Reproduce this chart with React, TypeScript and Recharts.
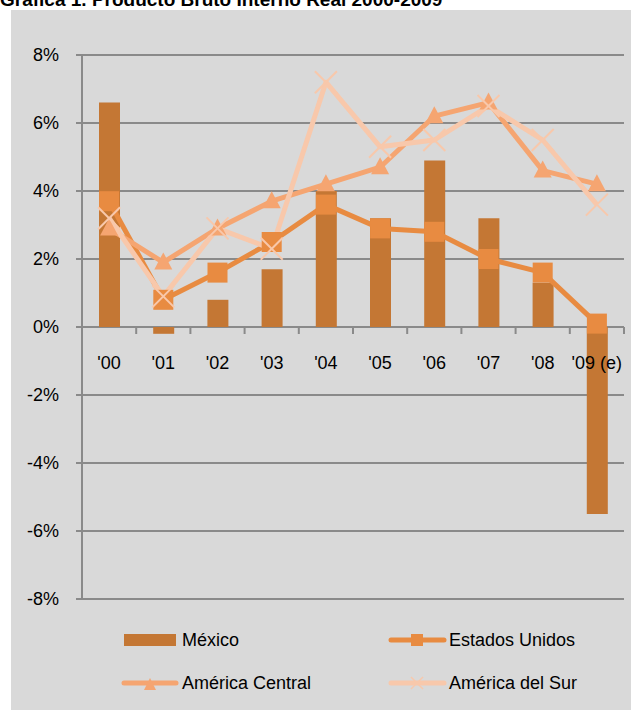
import { ComposedChart, Bar, Line, XAxis, YAxis, CartesianGrid } from 'recharts'

const years = ["'00", "'01", "'02", "'03", "'04", "'05", "'06", "'07", "'08", "'09 (e)"]
const mexico = [6.6, -0.2, 0.8, 1.7, 4.0, 3.2, 4.9, 3.2, 1.3, -5.5]
const estadosUnidos = [3.7, 0.8, 1.6, 2.5, 3.6, 2.9, 2.8, 2.0, 1.6, 0.1]
const americaCentral = [2.9, 1.9, 2.9, 3.7, 4.2, 4.7, 6.2, 6.6, 4.6, 4.2]
const americaSur = [3.2, 0.9, 2.9, 2.3, 7.2, 5.3, 5.5, 6.5, 5.5, 3.6]
const yTicks = [-8, -6, -4, -2, 0, 2, 4, 6, 8]
const seriesNames = ['México', 'Estados Unidos', 'América Central', 'América del Sur']

const FONT = '"Liberation Sans", Arial, sans-serif'
const GRID = '#8A8A8A'
const MX_COLOR = '#C47734'
const US_COLOR = '#E88B41'
const AC_COLOR = '#F5A571'
const AS_COLOR = '#F8C8AB'

const W = 631
const H = 712
const M = { top: 55, right: 7, bottom: 83, left: 0 }
const Y_AXIS_W = 82
const X_AXIS_H = 30
const PLOT_H = H - M.top - M.bottom - X_AXIS_H
const ZERO_Y = M.top + PLOT_H / 2
const BAND = (W - M.right - Y_AXIS_W) / years.length

// category labels sit under the zero line, ticks go between categories
const XTick = (props: any) => {
  const { x, index, payload } = props
  const last = index === years.length - 1
  return (
    <g>
      <line x1={x - BAND / 2} x2={x - BAND / 2} y1={ZERO_Y} y2={ZERO_Y + 7} stroke={GRID} strokeWidth={2} />
      {last && (
        <line x1={x + BAND / 2} x2={x + BAND / 2} y1={ZERO_Y} y2={ZERO_Y + 7} stroke={GRID} strokeWidth={2} />
      )}
      <text
        x={last ? x + BAND / 2 - 2 : x}
        y={ZERO_Y + 42}
        textAnchor={last ? 'end' : 'middle'}
        fontSize={18}
        fontFamily={FONT}
        fill="#000"
      >
        {payload.value}
      </text>
    </g>
  )
}

const SquareDot = (props: any) => {
  const { cx, cy, index } = props
  return <rect key={`sq-${index}`} x={cx - 10} y={cy - 10} width={20} height={20} fill={US_COLOR} />
}

const TriangleDot = (props: any) => {
  const { cx, cy, index } = props
  return (
    <polygon
      key={`tr-${index}`}
      points={`${cx},${cy - 10} ${cx - 9},${cy + 7} ${cx + 9},${cy + 7}`}
      fill={AC_COLOR}
    />
  )
}

const CrossDot = (props: any) => {
  const { cx, cy, index } = props
  return (
    <g key={`x-${index}`} stroke={AS_COLOR} strokeWidth={2}>
      <line x1={cx - 11} y1={cy - 11} x2={cx + 11} y2={cy + 11} />
      <line x1={cx - 11} y1={cy + 11} x2={cx + 11} y2={cy - 11} />
    </g>
  )
}

export default function App() {
  const data = years.map((year, i) => ({
    year,
    mexico: mexico[i],
    estadosUnidos: estadosUnidos[i],
    americaCentral: americaCentral[i],
    americaSur: americaSur[i],
  }))

  const textStyle = {
    position: 'absolute' as const,
    fontSize: 18,
    lineHeight: '20px',
    whiteSpace: 'nowrap' as const,
    color: '#000',
  }

  return (
    <div style={{ position: 'absolute', left: 0, top: 0, width: W, height: H, overflow: 'hidden', background: '#fff', fontFamily: FONT }}>
      <div style={{ position: 'absolute', left: 0, top: -10, fontSize: 19, lineHeight: '19px', fontWeight: 'bold', whiteSpace: 'nowrap' }}>
        Gráfica 1. Producto Bruto Interno Real 2000-2009
      </div>
      <div style={{ position: 'absolute', left: 11, top: 10, width: 620, height: 700, background: '#D9D9D9' }} />

      <div style={{ position: 'absolute', left: 0, top: 0 }}>
        <ComposedChart width={W} height={H} data={data} margin={M}>
          <CartesianGrid vertical={false} stroke={GRID} strokeWidth={2} />
          <XAxis
            dataKey="year"
            height={X_AXIS_H}
            axisLine={false}
            tickLine={false}
            interval={0}
            tick={XTick}
          />
          <YAxis
            width={Y_AXIS_W}
            domain={[-8, 8]}
            ticks={yTicks}
            interval={0}
            tickFormatter={(v: number) => `${v}%`}
            axisLine={{ stroke: GRID, strokeWidth: 2 }}
            tickLine={{ stroke: GRID, strokeWidth: 2 }}
            tickSize={6}
            tickMargin={17}
            tick={{ fill: '#000', fontSize: 18, fontFamily: FONT }}
          />
          <Bar dataKey="mexico" fill={MX_COLOR} barSize={21} isAnimationActive={false} />
          <Line
            type="linear"
            dataKey="estadosUnidos"
            stroke={US_COLOR}
            strokeWidth={5}
            strokeLinejoin="round"
            dot={SquareDot}
            activeDot={false}
            isAnimationActive={false}
          />
          <Line
            type="linear"
            dataKey="americaCentral"
            stroke={AC_COLOR}
            strokeWidth={5}
            strokeLinejoin="round"
            dot={TriangleDot}
            activeDot={false}
            isAnimationActive={false}
          />
          <Line
            type="linear"
            dataKey="americaSur"
            stroke={AS_COLOR}
            strokeWidth={5}
            strokeLinejoin="round"
            dot={CrossDot}
            activeDot={false}
            isAnimationActive={false}
          />
        </ComposedChart>
      </div>

      {/* legend */}
      <svg style={{ position: 'absolute', left: 0, top: 620 }} width={W} height={80}>
        <rect x={124} y={14} width={52} height={12} fill={MX_COLOR} />
        <line x1={391} x2={444} y1={20} y2={20} stroke={US_COLOR} strokeWidth={5} strokeLinecap="round" />
        <rect x={411} y={14} width={12} height={12} fill={US_COLOR} />
        <line x1={124} x2={176} y1={63} y2={63} stroke={AC_COLOR} strokeWidth={5} strokeLinecap="round" />
        <polygon points="150,58 144,70 156,70" fill={AC_COLOR} />
        <line x1={391} x2={444} y1={63} y2={63} stroke={AS_COLOR} strokeWidth={5} strokeLinecap="round" />
        <g stroke={AS_COLOR} strokeWidth={1.5}>
          <line x1={411} y1={57} x2={423} y2={69} />
          <line x1={411} y1={69} x2={423} y2={57} />
        </g>
      </svg>
      <div style={{ ...textStyle, left: 182, top: 630 }}>{seriesNames[0]}</div>
      <div style={{ ...textStyle, left: 449, top: 630 }}>{seriesNames[1]}</div>
      <div style={{ ...textStyle, left: 182, top: 673 }}>{seriesNames[2]}</div>
      <div style={{ ...textStyle, left: 449, top: 673 }}>{seriesNames[3]}</div>
    </div>
  )
}
